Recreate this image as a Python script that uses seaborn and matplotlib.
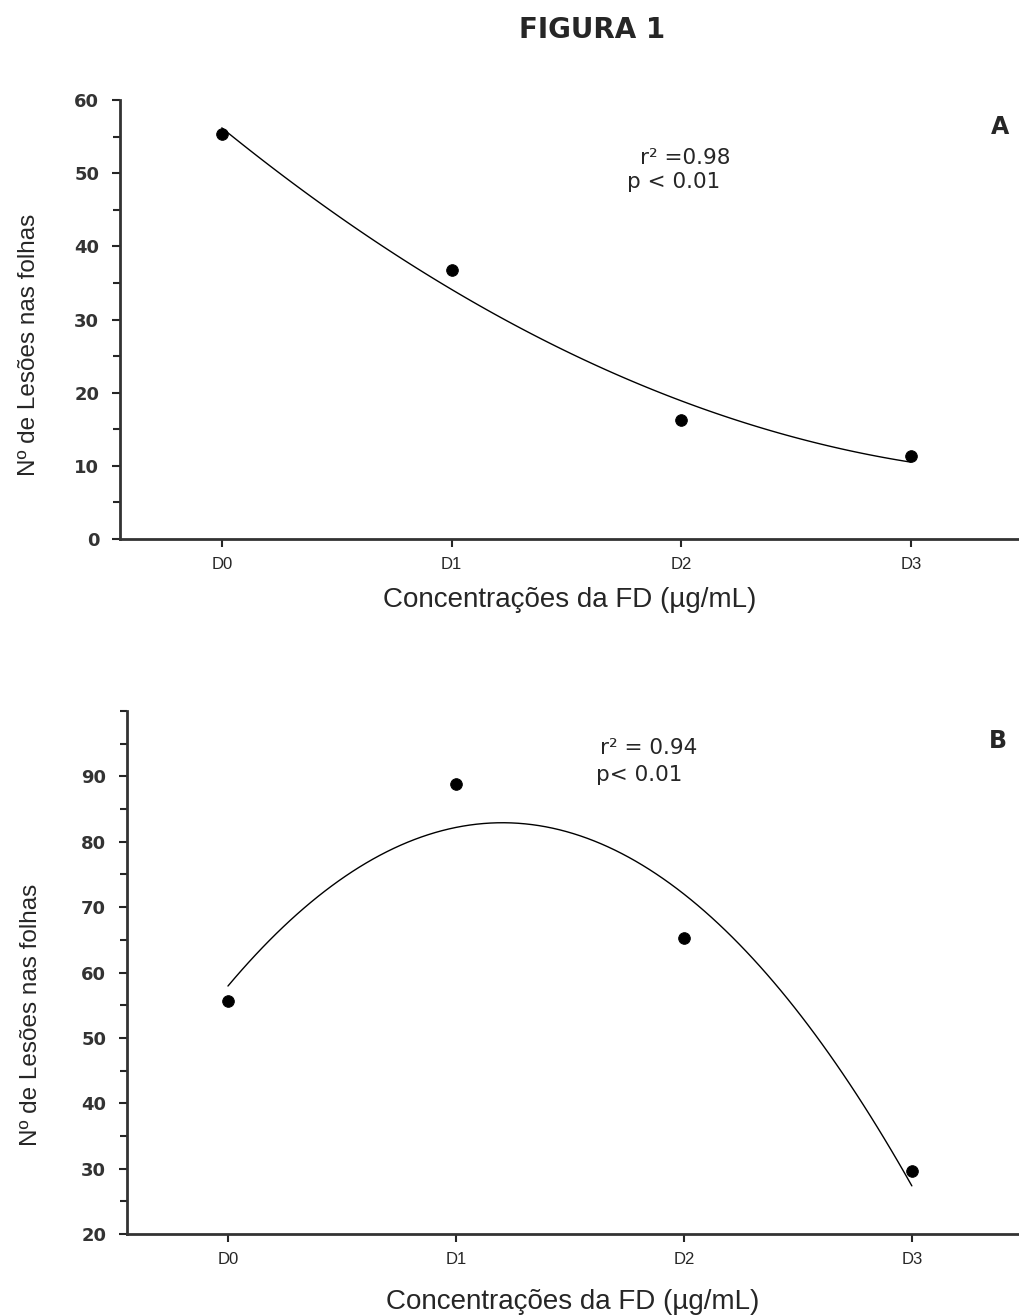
import numpy as np
import pandas as pd
import seaborn as sns
import matplotlib.pyplot as plt
from matplotlib.ticker import MultipleLocator

# dados
doses = ["D0", "D1", "D2", "D3"]
dose_pos = [0, 1, 2, 3]
lesoes_a = [55.3, 36.8, 16.2, 11.4]
lesoes_b = [55.7, 88.9, 65.3, 29.6]
stats_a = ["r² =0.98", "p < 0.01"]
stats_b = ["r² = 0.94", "p< 0.01"]

sns.set_style("ticks")
plt.rcParams['font.family'] = ['Liberation Sans', 'DejaVu Sans']

fig = plt.figure(figsize=(10.19, 13.16), dpi=100)
ax_a = fig.add_axes([0.1178, 0.5904, 0.8822, 0.3336])
ax_b = fig.add_axes([0.1246, 0.0623, 0.8754, 0.3974])


def painel(ax, valores, ylim, major, stats, stat_pos, letra, letra_pos, ylab_pos, xlab_y):
    df = pd.DataFrame({"dose": dose_pos, "lesoes": valores})
    # ajuste polinomial de 2a ordem
    sns.regplot(data=df, x="dose", y="lesoes", order=2, ci=None, scatter=False,
                ax=ax, line_kws={"color": "black", "lw": 1.0})
    sns.scatterplot(data=df, x="dose", y="lesoes", ax=ax, color="black",
                    s=70, edgecolor="black", zorder=5)
    ax.set_xlim(-0.443, 3.47)
    ax.set_ylim(*ylim)
    ax.set_xticks(dose_pos)
    ax.set_xticklabels(doses, fontsize=12)
    ax.set_yticks(major)
    ax.yaxis.set_minor_locator(MultipleLocator(5))
    ax.tick_params(axis="y", which="major", length=6, width=1.5, pad=9)
    ax.tick_params(axis="y", which="minor", length=5, width=1.5)
    ax.tick_params(axis="x", length=6, width=1.5, pad=7)
    for lbl in ax.get_yticklabels():
        lbl.set_fontfamily("DejaVu Sans")
        lbl.set_fontweight("bold")
        lbl.set_fontsize(13)
        lbl.set_color("#333333")
    sns.despine(ax=ax)
    for s in ["left", "bottom"]:
        ax.spines[s].set_linewidth(2)
        ax.spines[s].set_color("#333333")
    ax.set_xlabel("Concentrações da FD (µg/mL)", fontsize=20)
    ax.xaxis.set_label_coords(0.5, xlab_y)
    ax.set_ylabel("Nº de Lesões nas folhas", fontsize=17.5)
    ax.yaxis.set_label_coords(*ylab_pos)
    for txt, pos in zip(stats, stat_pos):
        ax.text(pos[0], pos[1], txt, transform=ax.transAxes, fontsize=15.5,
                family="DejaVu Sans", va="center")
    ax.text(letra_pos[0], letra_pos[1], letra, transform=ax.transAxes,
            fontsize=17, family="DejaVu Sans", fontweight="bold",
            ha="center", va="center")


painel(ax_a, lesoes_a, (0, 60), range(0, 61, 10), stats_a,
       [(0.578, 0.868), (0.564, 0.813)], "A", (0.979, 0.938),
       (-0.089, 0.442), -0.110)
painel(ax_b, lesoes_b, (20, 100), range(20, 91, 10), stats_b,
       [(0.530, 0.929), (0.526, 0.878)], "B", (0.976, 0.943),
       (-0.095, 0.419), -0.105)

fig.text(0.581, 0.977, "FIGURA 1", fontsize=20, family="DejaVu Sans",
         fontweight="bold", ha="center", va="center")

fig.savefig("out.png", dpi=100)
